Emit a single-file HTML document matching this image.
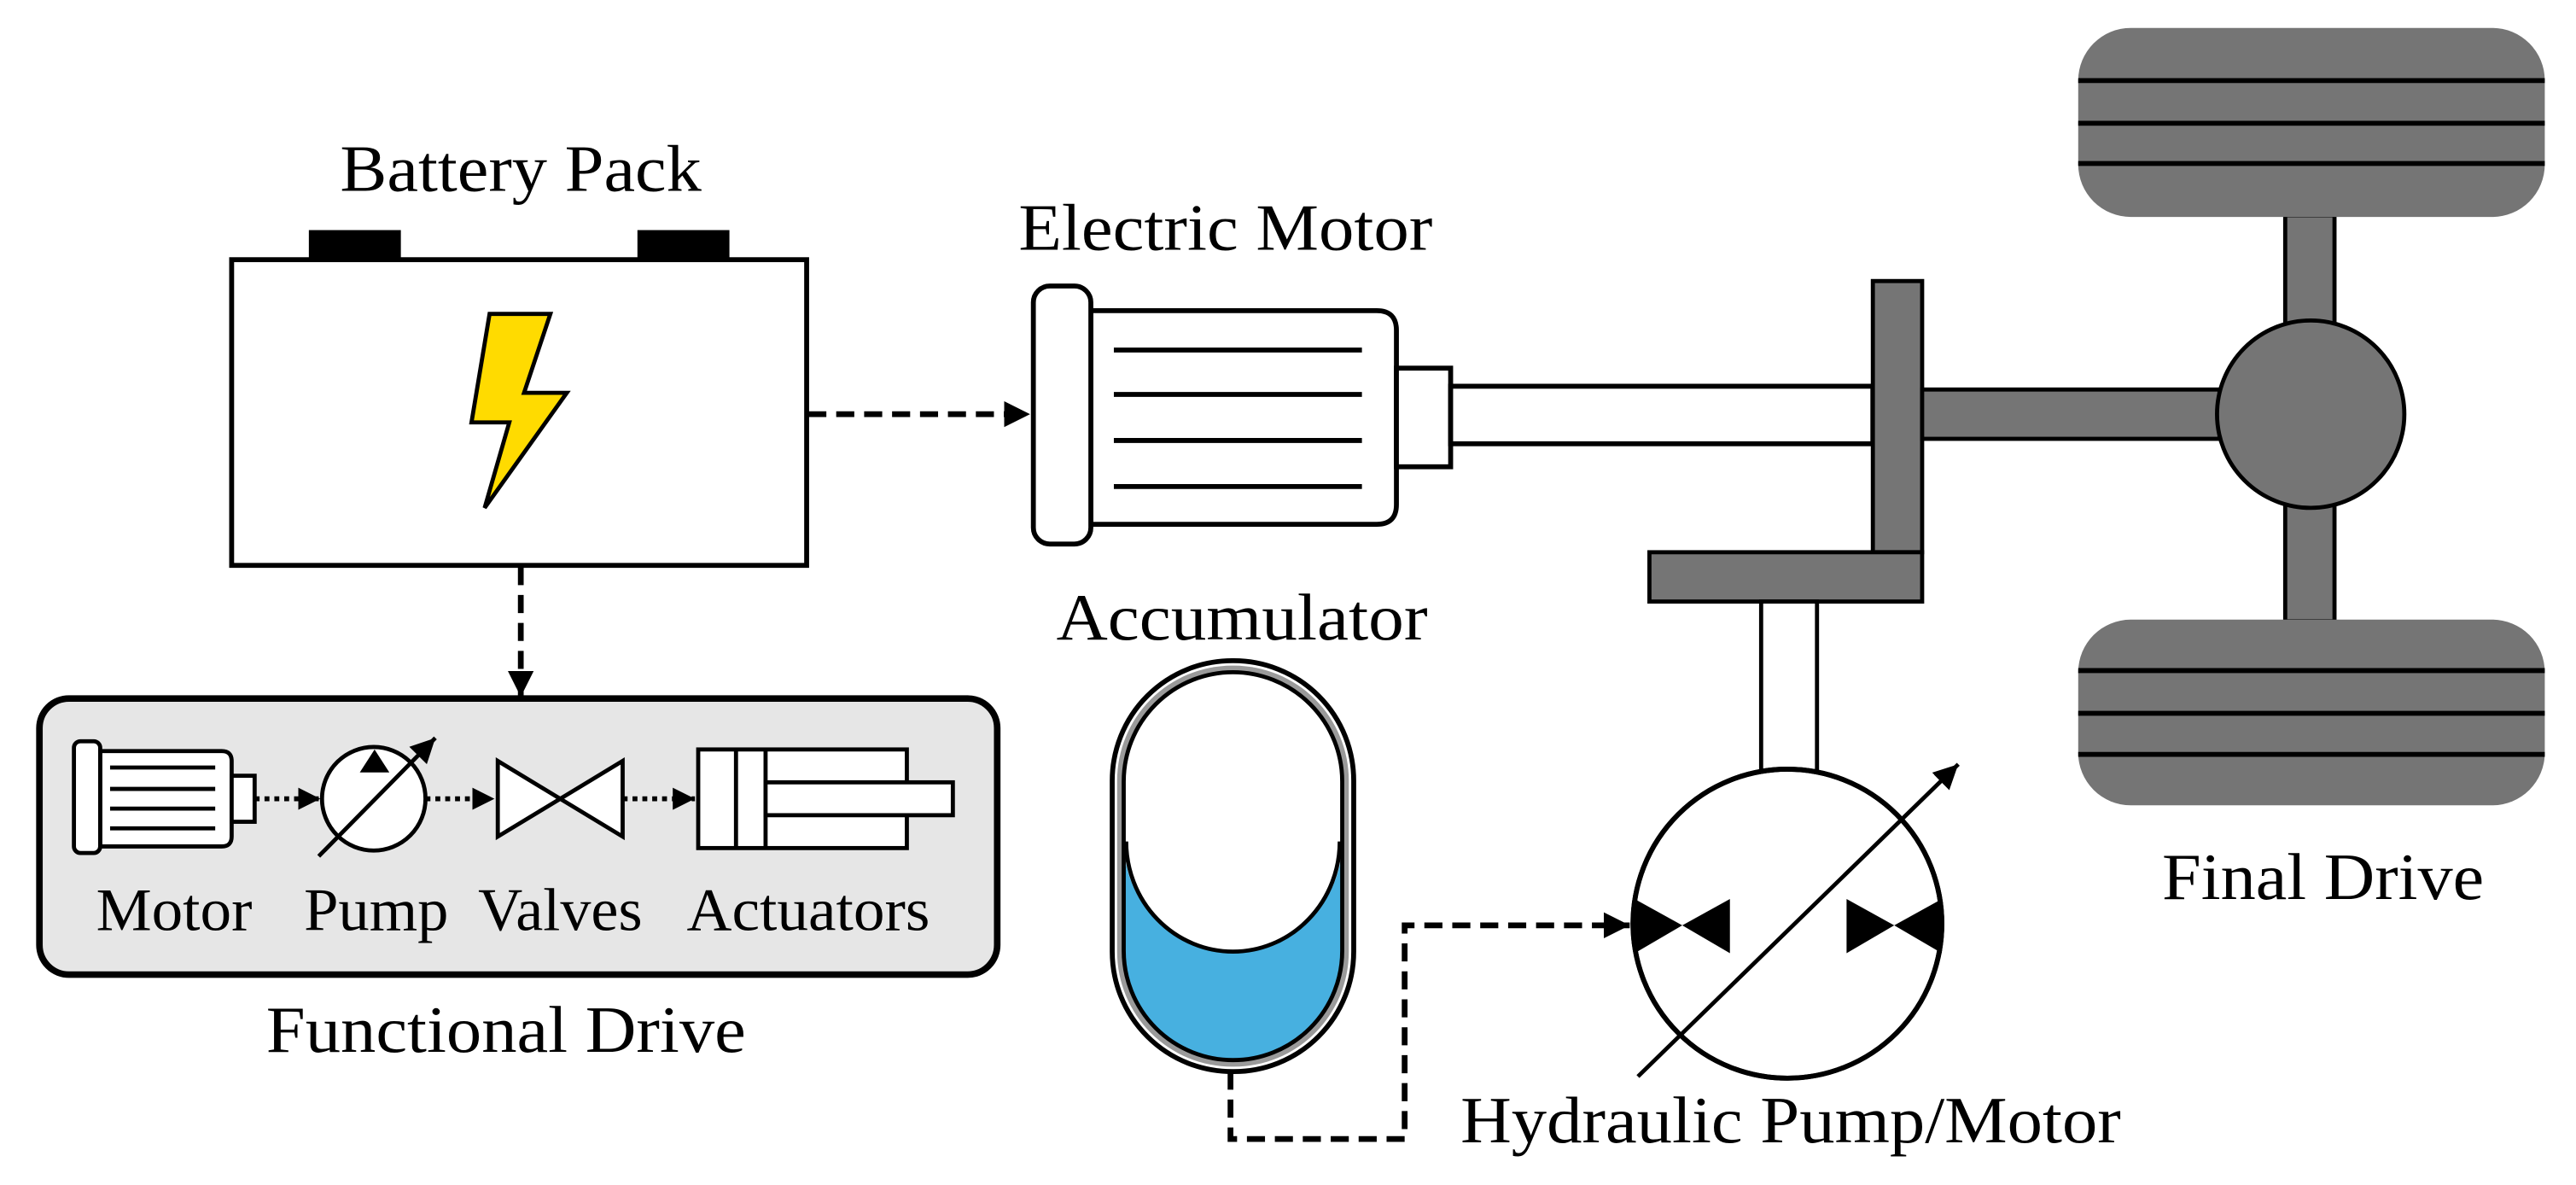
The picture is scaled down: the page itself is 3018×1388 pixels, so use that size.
<!DOCTYPE html>
<html><head><style>html,body{margin:0;padding:0;background:#fff}svg{display:block}text{font-family:"Liberation Serif",serif;fill:#000}</style></head>
<body>
<svg width="3018" height="1388" viewBox="0 0 1568 721" preserveAspectRatio="none" xmlns="http://www.w3.org/2000/svg">
<defs>
<marker id="ah" viewBox="0 0 10 10" refX="10" refY="5" markerWidth="4.5" markerHeight="4.5" orient="auto" markerUnits="strokeWidth"><path d="M0,0L10,5L0,10z" fill="#000"/></marker>
<marker id="ah2" viewBox="0 0 10 10" refX="10" refY="5" markerWidth="6" markerHeight="6" orient="auto" markerUnits="strokeWidth"><path d="M0,0L10,5L0,10z" fill="#000"/></marker>
</defs>
<g stroke="#000" stroke-width="3" fill="none">
<rect x="188" y="140" width="56" height="18" fill="#000" stroke="none"/>
<rect x="388" y="140" width="56" height="18" fill="#000" stroke="none"/>
<rect x="141" y="158" width="350" height="186" fill="#fff"/>
<polygon points="298,191 335,191 319,239 345,239 295,309 310,257 287,257" fill="#FFDB00" stroke-width="2.5"/>
<line x1="492" y1="252" x2="627" y2="252" stroke-dasharray="11,6" stroke-width="3.5" marker-end="url(#ah)"/>
<line x1="317" y1="345" x2="317" y2="424" stroke-dasharray="11,6" stroke-width="3.5" marker-end="url(#ah)"/>
<path d="M664,189 H838 Q850,189 850,201 V307 Q850,319 838,319 H664 Z" fill="#fff"/>
<rect x="629" y="174" width="35" height="157" rx="10" fill="#fff"/>
<line x1="678" y1="213" x2="829" y2="213"/><line x1="678" y1="240" x2="829" y2="240"/>
<line x1="678" y1="268" x2="829" y2="268"/><line x1="678" y1="296" x2="829" y2="296"/>
<rect x="850" y="224" width="33" height="60" fill="#fff"/>
<rect x="883" y="235" width="257" height="35" fill="#fff"/>
<g fill="#757575" stroke-width="2.5">
<rect x="1140" y="171" width="30" height="165"/>
<rect x="1004" y="336" width="166" height="30"/>
<rect x="1170" y="237" width="181" height="30"/>
<rect x="1391" y="131" width="30" height="247"/>
<circle cx="1406.5" cy="252" r="57"/>
<rect x="1265" y="17" width="284" height="115" rx="32" stroke="none"/>
<rect x="1265" y="377" width="284" height="113" rx="32" stroke="none"/>
</g>
<line x1="1265" y1="49" x2="1549" y2="49"/><line x1="1265" y1="75" x2="1549" y2="75"/><line x1="1265" y1="99.5" x2="1549" y2="99.5"/>
<line x1="1265" y1="408" x2="1549" y2="408"/><line x1="1265" y1="434" x2="1549" y2="434"/><line x1="1265" y1="459" x2="1549" y2="459"/>
<rect x="1072" y="366" width="34" height="104" fill="#fff" stroke-width="2.5"/>
<circle cx="1088" cy="562" r="94" fill="#fff"/>
<g fill="#000" stroke="none">
<polygon points="995,547 1024,563 995,580"/><polygon points="1053,547 1024,563 1053,580"/>
<polygon points="1124,547 1153,563 1124,580"/><polygon points="1182,547 1153,563 1182,580"/>
</g>
<circle cx="1088" cy="562" r="94"/>
<line x1="997" y1="655" x2="1192" y2="465" marker-end="url(#ah2)" stroke-width="2.5"/>
<polyline points="749,652 749,693 855,693 855,563 992,563" stroke-dasharray="11,6" stroke-width="3.5" marker-end="url(#ah)"/>
<rect x="677" y="402" width="147" height="250" rx="73" fill="#fff" stroke-width="3"/>
<rect x="680" y="405" width="141" height="244" rx="70" fill="#9a9a9a" stroke="none"/>
<rect x="684" y="409" width="133" height="236" rx="66.5" fill="#47B0E0" stroke="none"/>
<path d="M684,512 V475.5 A66.5,66.5 0 0 1 817,475.5 V512 A66.5,67 0 0 1 684,512 Z" fill="#fff" stroke="none"/>
<path d="M685.5,512 A65,67 0 0 0 815.5,512" stroke-width="2.5"/>
<rect x="684" y="409" width="133" height="236" rx="66.5" fill="none" stroke-width="2.5"/>
<rect x="24" y="425" width="583" height="168" rx="18" fill="#e6e6e6" stroke-width="4"/>
<g stroke-width="2.5">
<path d="M61,457 H135 Q141,457 141,463 V509 Q141,515 135,515 H61 Z" fill="#fff"/>
<rect x="45" y="451" width="16" height="68" rx="4" fill="#fff"/>
<line x1="67" y1="467" x2="131" y2="467"/><line x1="67" y1="480" x2="131" y2="480"/>
<line x1="67" y1="492" x2="131" y2="492"/><line x1="67" y1="504" x2="131" y2="504"/>
<rect x="141" y="472" width="14" height="28" fill="#fff"/>
<line x1="155" y1="486" x2="195" y2="486" stroke-dasharray="3,3" stroke-width="3" marker-end="url(#ah)"/>
<circle cx="227.5" cy="486" r="31.5" fill="#fff"/>
<polygon points="219,470 228,456 237,470" fill="#000" stroke="none"/>
<line x1="194" y1="521" x2="265" y2="449" marker-end="url(#ah2)"/>
<line x1="259" y1="486" x2="301" y2="486" stroke-dasharray="3,3" stroke-width="3" marker-end="url(#ah)"/>
<polygon points="303,463 379,509 379,463 303,509" fill="#fff"/>
<line x1="379" y1="486" x2="423" y2="486" stroke-dasharray="3,3" stroke-width="3" marker-end="url(#ah)"/>
<rect x="425" y="456" width="127" height="60" fill="#fff"/>
<line x1="448" y1="456" x2="448" y2="516"/><line x1="466" y1="456" x2="466" y2="516"/>
<rect x="466" y="476" width="114" height="20" fill="#fff"/>
</g>
</g>
<g text-anchor="middle">
<text x="317" y="116" font-size="40" textLength="220" lengthAdjust="spacingAndGlyphs">Battery Pack</text>
<text x="746" y="152" font-size="40" textLength="252" lengthAdjust="spacingAndGlyphs">Electric Motor</text>
<text x="756" y="389" font-size="40" textLength="226" lengthAdjust="spacingAndGlyphs">Accumulator</text>
<text x="1414" y="547" font-size="40" textLength="196" lengthAdjust="spacingAndGlyphs">Final Drive</text>
<text x="1090" y="695" font-size="40" textLength="402" lengthAdjust="spacingAndGlyphs">Hydraulic Pump/Motor</text>
<text x="308" y="640" font-size="40" textLength="292" lengthAdjust="spacingAndGlyphs">Functional Drive</text>
<text x="106" y="566" font-size="37" textLength="95" lengthAdjust="spacingAndGlyphs">Motor</text>
<text x="229" y="566" font-size="37" textLength="88" lengthAdjust="spacingAndGlyphs">Pump</text>
<text x="341" y="566" font-size="37" textLength="100" lengthAdjust="spacingAndGlyphs">Valves</text>
<text x="492" y="566" font-size="37" textLength="148" lengthAdjust="spacingAndGlyphs">Actuators</text>
</g>
</svg>
</body></html>
